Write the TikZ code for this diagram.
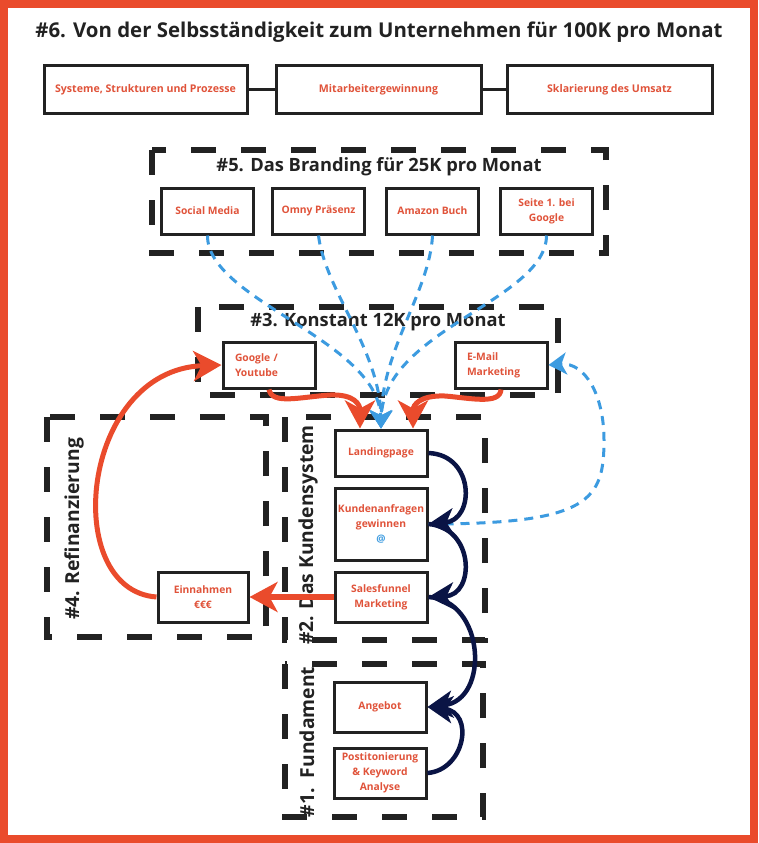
\documentclass[tikz,border=0pt]{standalone}
\usepackage{fontspec}
\setmainfont{Open Sans}
\usetikzlibrary{arrows.meta}
\definecolor{frameRed}{HTML}{EA4B2C}
\definecolor{txtRed}{HTML}{E0533A}
\definecolor{lineBlack}{HTML}{222222}
\definecolor{dashBlue}{HTML}{3C9BE0}
\definecolor{navy}{HTML}{0A1445}
\tikzset{
  bx/.style={draw=lineBlack, line width=3pt, fill=white, text=txtRed, align=center,
    inner sep=0pt, minimum width=92pt, minimum height=46pt,
    font=\bfseries\fontsize{10.3}{15}\selectfont},
  topbx/.style={bx, minimum width=204pt, minimum height=47pt,
    font=\bfseries\fontsize{10.6}{13}\selectfont},
  leftbx/.style={bx, align=left, text width=68pt, inner xsep=12pt},
  frame/.style={draw=lineBlack, line width=6pt, dash pattern=on 25pt off 25pt},
  sectitle/.style={text=lineBlack, font=\bfseries\fontsize{18.3}{20}\selectfont, inner sep=0pt},
  sidelabel/.style={text=lineBlack, font=\bfseries\fontsize{19.3}{20}\selectfont, inner sep=0pt, rotate=90},
  bluedash/.style={draw=dashBlue, line width=3pt, dash pattern=on 9pt off 7pt},
  bluetip/.style={-{Stealth[length=18pt,width=22pt,inset=5pt]}},
  redarrow/.style={draw=frameRed, line width=5pt, -{Stealth[length=28pt,width=30pt,inset=8pt]}},
  navyarrow/.style={draw=navy, line width=4.5pt, -{Stealth[length=25pt,width=27pt,inset=7pt]}},
}
\begin{document}
\begin{tikzpicture}[x=1pt,y=-1pt]
\useasboundingbox (0,0) rectangle (758,843);
\fill[white] (0,0) rectangle (758,843);
\draw[frameRed, line width=8pt] (4,4) rectangle (754,839);

% title
\node[text=lineBlack, font=\bfseries\fontsize{20.4}{26}\selectfont, inner sep=0pt] (title) at (379,32)
  {\#6. Von der Selbsständigkeit zum Unternehmen für 100K pro Monat};

% top row
\node[topbx, minimum width=203pt] (sys) at (145.5,89.5) {Systeme, Strukturen und Prozesse};
\node[topbx, minimum width=205pt] (mit) at (378.5,89.5) {Mitarbeitergewinnung};
\node[topbx, minimum width=205pt] (skl) at (609.5,89.5) {Sklarierung des Umsatz};
\draw[lineBlack, line width=3pt] (sys.east) -- (mit.west);
\draw[lineBlack, line width=3pt] (mit.east) -- (skl.west);

% frames
\draw[frame] (152,150) rectangle (606,253);
\draw[frame] (198,307) rectangle (558,395);
\draw[frame] (47,417) rectangle (266,637);
\draw[frame] (285,417) rectangle (485,640);
\draw[frame] (285,664) rectangle (483,817);

% frame titles
\node[sectitle] (t5) at (379,167) {\#5. Das Branding für 25K pro Monat};
\node[sectitle] (t3) at (378,322) {\#3. Konstant 12K pro Monat};
\node[sidelabel] (t4) at (74,529) {\#4. Refinanzierung};
\node[sidelabel] (t2) at (308,535) {\#2. Das Kundensystem};
\node[sidelabel] (t1) at (307,742) {\#1.\ \ Fundament};

% #5 boxes
\node[bx] (soc) at (207.5,211) {Social Media};
\node[bx] (omn) at (318.5,211) {Omny Präsenz};
\node[bx] (ama) at (432.5,211) {Amazon Buch};
\node[bx] (sei) at (546.5,211) {Seite 1. bei\\Google};

% #3 boxes
\node[leftbx] (goo) at (269,365) {Google /\\Youtube};
\node[leftbx] (ema) at (501,365) {E-Mail\\Marketing};

% #2 boxes
\node[bx] (lan) at (381,453) {Landingpage};
\node[bx, minimum height=72pt] (kun) at (381,524) {Kundenanfragen\\gewinnen\\\textcolor{dashBlue}{@}};
\node[bx, minimum height=50pt] (sal) at (381,597) {Salesfunnel\\Marketing};
\node[bx, minimum width=90pt, minimum height=50pt] (ein) at (203,597) {Einnahmen\\€€€};

% #1 boxes
\node[bx, minimum height=50pt] (ang) at (380,707) {Angebot};
\node[bx, minimum height=50pt] (pos) at (380,773) {Postitonierung\\\& Keyword\\Analyse};

% blue dashed connectors
\draw[bluedash, bluetip] (soc.south) .. controls (207,300) and (378,340) .. (lan.north);
\draw[bluedash, bluetip] (omn.south) .. controls (325,290) and (380,350) .. (lan.north);
\draw[bluedash, bluetip] (ama.south) .. controls (430,290) and (382,350) .. (lan.north);
\draw[bluedash, bluetip] (sei.south) .. controls (546,300) and (384,330) .. (lan.north);
\draw[bluedash, bluetip] (kun.east) .. controls (590,524) and (604,500) .. (604,440)
  .. controls (604,395) and (585,362) .. (ema.east);

% red connectors
\draw[redarrow] (goo.south) .. controls (272,405) and (300,397) .. (330,395)
  .. controls (355,394) and (360,405) .. ([xshift=-21pt]lan.north);
\draw[redarrow] (ema.south) .. controls (500,405) and (470,398) .. (445,396)
  .. controls (420,395) and (413,405) .. ([xshift=32pt]lan.north);
\draw[redarrow, line width=6pt] (sal.west) -- (ein.east);
\draw[redarrow] (ein.west) .. controls (60,590) and (80,370) .. (goo.west);

% navy connectors
\draw[navyarrow] (lan.east) .. controls (475,455) and (475,520) .. (kun.east);
\draw[navyarrow] (kun.east) .. controls (475,528) and (475,595) .. (sal.east);
\draw[navyarrow] (sal.east) .. controls (485,600) and (490,700) .. (ang.east);
\draw[navyarrow] (pos.east) .. controls (465,770) and (475,712) .. (ang.east);
\end{tikzpicture}
\end{document}
